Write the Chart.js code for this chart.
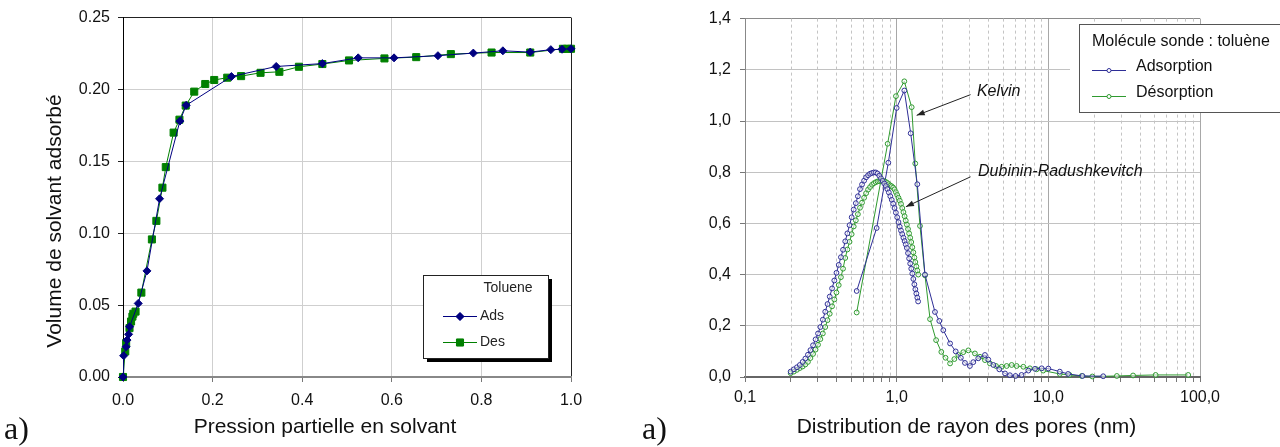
<!DOCTYPE html>
<html>
<head>
<meta charset="utf-8">
<script src="https://cdn.jsdelivr.net/npm/chart.js@4.4.1/dist/chart.umd.min.js"></script>
<style>
  html, body { margin: 0; padding: 0; background: #ffffff; }
  #wrap { position: relative; width: 1280px; height: 447px; overflow: hidden; background: #fff; }
  canvas { position: absolute; top: 0; }
  #cL { left: 0; }
  #cR { left: 640px; }
</style>
</head>
<body>
<div id="wrap">
  <canvas id="cL" width="640" height="447"></canvas>
  <canvas id="cR" width="640" height="447"></canvas>
</div>
<script>
// ---------- LEFT CHART DATA (isotherms) ----------
const leftSeriesNames = ['Ads', 'Des'];
const leftLegendTitle = 'Toluene';
const leftXTitle = 'Pression partielle en solvant';
const leftYTitle = 'Volume de solvant adsorbé';
const leftXTickLabels = ['0.0', '0.2', '0.4', '0.6', '0.8', '1.0'];
const leftYTickLabels = ['0.00', '0.05', '0.10', '0.15', '0.20', '0.25'];

const adsP = [0, 0.0014, 0.007, 0.009, 0.0125, 0.0148, 0.034, 0.0535, 0.0816, 0.127, 0.141, 0.242, 0.342, 0.445, 0.525, 0.605, 0.703, 0.782, 0.848, 0.909, 0.955, 0.980, 1.0];
const adsV = [0, 0.0148, 0.021, 0.0257, 0.0297, 0.035, 0.0512, 0.0738, 0.124, 0.178, 0.189, 0.209, 0.216, 0.218, 0.222, 0.222, 0.2235, 0.2253, 0.2269, 0.226, 0.2277, 0.228, 0.2283];

const desP = [0, 0.005, 0.007, 0.0145, 0.018, 0.021, 0.023, 0.028, 0.041, 0.0645, 0.0745, 0.088, 0.0955, 0.113, 0.126, 0.140, 0.159, 0.1836, 0.2036, 0.2327, 0.2636, 0.307, 0.349, 0.3927, 0.445, 0.5045, 0.5836, 0.6545, 0.7318, 0.8227, 0.909, 0.982, 0.991, 1.0];
const desV = [0, 0.0178, 0.0236, 0.034, 0.0386, 0.042, 0.044, 0.0455, 0.0587, 0.0957, 0.1086, 0.1317, 0.146, 0.170, 0.179, 0.1888, 0.1985, 0.2038, 0.2066, 0.2082, 0.2093, 0.2116, 0.2123, 0.2158, 0.2177, 0.2202, 0.2216, 0.2225, 0.2246, 0.2257, 0.2257, 0.2283, 0.2283, 0.2283];

// ---------- RIGHT CHART DATA (pore size distribution) ----------
const rightSeriesNames = ['Adsorption', 'Désorption'];
const rightLegendTitle = 'Molécule sonde : toluène';
const rightXTitle = 'Distribution de rayon des pores (nm)';
const rightXMajor = [0.1, 1, 10, 100];
const rightXTickLabels = ['0,1', '1,0', '10,0', '100,0'];
const rightXMinor = [0.2, 0.3, 0.4, 0.5, 0.6, 0.7, 0.8, 0.9, 2, 3, 4, 5, 6, 7, 8, 9, 20, 30, 40, 50, 60, 70, 80, 90];
const rightYTickLabels = ['0,0', '0,2', '0,4', '0,6', '0,8', '1,0', '1,2', '1,4'];
const annotationTexts = ['Kelvin', 'Dubinin-Radushkevitch'];

// Kelvin method
const kAdsR = [0.545, 0.738, 0.881, 1.0, 1.123, 1.237, 1.368, 1.537, 1.789, 1.91, 2.03, 2.25, 2.45, 2.65, 2.82, 3.04, 3.2, 3.45, 3.82, 4.02, 4.34, 4.75, 5.18, 5.58, 6.08, 6.66, 7.38, 8.16, 9.04, 10.0, 11.9, 13.5, 16.8, 23.0];
const kAdsV = [0.336, 0.582, 0.837, 1.051, 1.119, 0.952, 0.753, 0.400, 0.254, 0.219, 0.183, 0.131, 0.100, 0.075, 0.055, 0.043, 0.058, 0.073, 0.086, 0.068, 0.047, 0.030, 0.014, 0.007, 0.004, 0.008, 0.025, 0.032, 0.034, 0.033, 0.021, 0.012, 0.004, 0.003];

const kDesR = [0.545, 0.872, 0.989, 1.123, 1.256, 1.326, 1.425, 1.537, 1.66, 1.82, 1.97, 2.1, 2.25, 2.4, 2.55, 2.75, 2.97, 3.28, 3.54, 3.82, 4.12, 4.52, 4.92, 5.31, 5.73, 6.18, 6.84, 7.56, 8.37, 9.25, 11.9, 13.8, 16.6, 19.5, 28.3, 36.2, 51.0, 83.6];
const kDesV = [0.252, 0.911, 1.097, 1.155, 1.054, 0.834, 0.590, 0.397, 0.226, 0.144, 0.098, 0.075, 0.053, 0.070, 0.086, 0.097, 0.104, 0.092, 0.079, 0.066, 0.053, 0.043, 0.040, 0.043, 0.047, 0.043, 0.040, 0.034, 0.030, 0.025, 0.012, 0.008, 0.004, 0.002, 0.004, 0.006, 0.008, 0.008];

// Dubinin-Radushkevitch method
const drAdsR = [0.200, 0.210, 0.220, 0.230, 0.240, 0.250, 0.260, 0.270, 0.281, 0.292, 0.303, 0.314, 0.326, 0.338, 0.350, 0.362, 0.375, 0.388, 0.401, 0.415, 0.429, 0.443, 0.458, 0.473, 0.489, 0.505, 0.521, 0.538, 0.555, 0.573, 0.591, 0.610, 0.629, 0.648, 0.668, 0.688, 0.708, 0.728, 0.748, 0.768, 0.788, 0.808, 0.828, 0.848, 0.868, 0.888, 0.908, 0.928, 0.948, 0.968, 0.988, 1.008, 1.028, 1.048, 1.068, 1.088, 1.108, 1.128, 1.148, 1.168, 1.188, 1.208, 1.228, 1.248, 1.268, 1.288, 1.308, 1.328, 1.348, 1.368, 1.385];
const drAdsV = [0.021, 0.030, 0.038, 0.047, 0.059, 0.072, 0.087, 0.105, 0.124, 0.147, 0.170, 0.195, 0.224, 0.255, 0.285, 0.314, 0.346, 0.377, 0.407, 0.438, 0.468, 0.497, 0.530, 0.561, 0.593, 0.624, 0.654, 0.679, 0.706, 0.734, 0.752, 0.767, 0.780, 0.788, 0.794, 0.797, 0.799, 0.799, 0.795, 0.786, 0.776, 0.766, 0.756, 0.746, 0.734, 0.721, 0.706, 0.692, 0.677, 0.660, 0.642, 0.624, 0.605, 0.587, 0.572, 0.558, 0.544, 0.531, 0.518, 0.504, 0.484, 0.463, 0.443, 0.423, 0.404, 0.383, 0.362, 0.343, 0.326, 0.310, 0.295];

const drDesR = [0.200, 0.210, 0.220, 0.230, 0.240, 0.250, 0.260, 0.270, 0.281, 0.292, 0.303, 0.314, 0.326, 0.338, 0.350, 0.362, 0.375, 0.388, 0.401, 0.415, 0.429, 0.443, 0.458, 0.473, 0.489, 0.505, 0.521, 0.538, 0.555, 0.573, 0.591, 0.610, 0.629, 0.648, 0.668, 0.688, 0.708, 0.728, 0.748, 0.768, 0.788, 0.808, 0.828, 0.848, 0.868, 0.888, 0.908, 0.928, 0.948, 0.968, 0.988, 1.008, 1.028, 1.048, 1.068, 1.088, 1.108, 1.128, 1.148, 1.168, 1.188, 1.208, 1.228, 1.248, 1.268, 1.288, 1.308, 1.328, 1.348, 1.368, 1.388];
const drDesV = [0.015, 0.021, 0.028, 0.035, 0.041, 0.049, 0.059, 0.074, 0.090, 0.107, 0.126, 0.148, 0.170, 0.195, 0.222, 0.247, 0.276, 0.303, 0.330, 0.359, 0.390, 0.423, 0.465, 0.498, 0.528, 0.558, 0.588, 0.612, 0.636, 0.661, 0.681, 0.700, 0.718, 0.732, 0.742, 0.751, 0.757, 0.761, 0.764, 0.765, 0.766, 0.766, 0.765, 0.762, 0.758, 0.753, 0.748, 0.745, 0.740, 0.733, 0.722, 0.711, 0.700, 0.689, 0.676, 0.660, 0.644, 0.628, 0.611, 0.595, 0.578, 0.561, 0.544, 0.527, 0.507, 0.487, 0.467, 0.449, 0.432, 0.416, 0.400];

// ---------- helpers ----------
const FONT = "'Liberation Sans', Arial, Helvetica, sans-serif";
const SERIF = "'Liberation Serif', 'DejaVu Serif', serif";
const pts = (xs, ys) => xs.map((x, i) => ({ x: x, y: ys[i] }));
const near = (a, b) => Math.abs(a - b) < 1e-9 * Math.max(1, Math.abs(b));

const BLUE_L = '#000080', GREEN_L = '#008000';
const BLUE_R = '#2e2e96', GREEN_R = '#2f9a2f';

// ---------- LEFT CHART ----------
const leftDeco = {
  id: 'leftDeco',
  afterDraw(chart) {
    const c = chart.ctx;
    c.save();
    c.fillStyle = '#111';
    // axis titles
    c.font = '21px ' + FONT;
    c.textAlign = 'center';
    c.textBaseline = 'middle';
    c.fillText(leftXTitle, 325, 427);
    c.save();
    c.translate(55, 221);
    c.rotate(-Math.PI / 2);
    c.fillText(leftYTitle, 0, 0);
    c.restore();
    // panel label
    c.font = '32px ' + SERIF;
    c.textAlign = 'left';
    c.textBaseline = 'alphabetic';
    c.fillText('a)', 4, 439);
    // legend box with shadow
    const bx = 423, by = 275, bw = 125, bh = 83;
    c.fillStyle = '#000';
    c.fillRect(bx + 4, by + 4, bw, bh);
    c.fillStyle = '#fff';
    c.fillRect(bx, by, bw, bh);
    c.strokeStyle = '#222';
    c.lineWidth = 1;
    c.strokeRect(bx + 0.5, by + 0.5, bw, bh);
    c.fillStyle = '#222';
    c.font = '14px ' + FONT;
    c.textAlign = 'center';
    c.fillText(leftLegendTitle, 508, 292);
    const rows = [316, 342];
    chart.data.datasets.forEach((ds, i) => {
      const y = rows[i];
      c.strokeStyle = ds.borderColor;
      c.lineWidth = 1;
      c.beginPath(); c.moveTo(443, y + 0.5); c.lineTo(477, y + 0.5); c.stroke();
      c.fillStyle = ds.backgroundColor;
      Chart.helpers.drawPoint(c, { pointStyle: ds.pointStyle, radius: ds.pointRadius, borderWidth: 1 }, 460, y + 0.5);
      c.fill();
      c.fillStyle = '#222';
      c.textAlign = 'left';
      c.textBaseline = 'middle';
      c.font = '14px ' + FONT;
      c.fillText(ds.label, 480, y);
    });
    c.restore();
  }
};

new Chart(document.getElementById('cL'), {
  type: 'scatter',
  data: {
    datasets: [
      { label: leftSeriesNames[0], data: pts(adsP, adsV), showLine: true, borderColor: BLUE_L, backgroundColor: BLUE_L,
        pointStyle: 'rectRot', pointRadius: 4, pointBorderWidth: 1, borderWidth: 1, clip: false },
      { label: leftSeriesNames[1], data: pts(desP, desV), showLine: true, borderColor: GREEN_L, backgroundColor: GREEN_L,
        pointStyle: 'rect', pointRadius: 5, pointBorderWidth: 1, borderWidth: 1, clip: false }
    ]
  },
  options: {
    responsive: false, animation: false, devicePixelRatio: 1,
    layout: { padding: { top: 17, right: 69, left: 0, bottom: 0 } },
    plugins: { legend: { display: false }, tooltip: { enabled: false } },
    scales: {
      x: {
        type: 'linear', min: 0, max: 1,
        afterFit(s) { s.height = 70; },
        ticks: { stepSize: 0.2, padding: 9, color: '#111', font: { family: FONT, size: 16 }, maxRotation: 0,
                 callback: (v) => leftXTickLabels[Math.round(v / 0.2)] },
        grid: { color: (ctx) => (ctx.tick && near(ctx.tick.value, 1)) ? '#222' : '#cfcfcf', lineWidth: 1, tickLength: 5, tickColor: '#777' },
        border: { color: '#888', width: 2 }
      },
      y: {
        min: 0, max: 0.25,
        afterFit(s) { s.width = 123; },
        ticks: { stepSize: 0.05, padding: 8, color: '#111', font: { family: FONT, size: 16 },
                 callback: (v) => leftYTickLabels[Math.round(v / 0.05)] },
        grid: { color: (ctx) => (ctx.tick && near(ctx.tick.value, 0.25)) ? '#222' : '#cfcfcf', lineWidth: 1, tickLength: 5, tickColor: '#222' },
        border: { color: '#000', width: 1 }
      }
    }
  },
  plugins: [leftDeco]
});

// ---------- RIGHT CHART ----------
const annotations = [
  { text: 0, tx: 3.38, ty: 1.116, ax: 3.07, ay: 1.103, bx: 1.355, by: 1.022 },
  { text: 1, tx: 3.44, ty: 0.802, ax: 3.07, ay: 0.782, bx: 1.15, by: 0.665 }
];

const rightDeco = {
  id: 'rightDeco',
  beforeDatasetsDraw(chart) {
    const c = chart.ctx, a = chart.chartArea, xs = chart.scales.x;
    c.save();
    c.strokeStyle = '#c4c4c4';
    c.lineWidth = 1;
    c.setLineDash([3, 3]);
    rightXMinor.forEach(v => {
      const x = Math.round(xs.getPixelForValue(v)) + 0.5;
      c.beginPath(); c.moveTo(x, a.top); c.lineTo(x, a.bottom); c.stroke();
    });
    c.restore();
  },
  afterDraw(chart) {
    const c = chart.ctx, xs = chart.scales.x, ys = chart.scales.y;
    c.save();
    // annotations with arrows
    c.fillStyle = '#111';
    c.strokeStyle = '#222';
    c.lineWidth = 1;
    c.font = 'italic 16px ' + FONT;
    c.textAlign = 'left';
    c.textBaseline = 'middle';
    annotations.forEach(an => {
      c.fillText(annotationTexts[an.text], xs.getPixelForValue(an.tx), ys.getPixelForValue(an.ty));
      const x1 = xs.getPixelForValue(an.ax), y1 = ys.getPixelForValue(an.ay);
      const x2 = xs.getPixelForValue(an.bx), y2 = ys.getPixelForValue(an.by);
      c.beginPath(); c.moveTo(x1, y1); c.lineTo(x2, y2); c.stroke();
      const ang = Math.atan2(y2 - y1, x2 - x1), L = 8, W = 3;
      c.beginPath();
      c.moveTo(x2, y2);
      c.lineTo(x2 - L * Math.cos(ang) + W * Math.sin(ang), y2 - L * Math.sin(ang) - W * Math.cos(ang));
      c.lineTo(x2 - L * Math.cos(ang) - W * Math.sin(ang), y2 - L * Math.sin(ang) + W * Math.cos(ang));
      c.closePath();
      c.fillStyle = '#222';
      c.fill();
      c.fillStyle = '#111';
    });
    // legend
    c.fillStyle = '#fff';
    c.fillRect(430, 24, 220, 88);
    c.strokeStyle = '#555';
    c.strokeRect(439.5, 24.5, 230, 88);
    c.fillStyle = '#111';
    c.font = '16px ' + FONT;
    c.textAlign = 'left';
    c.textBaseline = 'middle';
    c.fillText(rightLegendTitle, 452, 42);
    const rowsT = [67, 93], rowsL = [70.5, 96.5];
    [0, 1].forEach(i => {
      const ds = chart.data.datasets[i];
      c.strokeStyle = ds.borderColor;
      c.lineWidth = 1;
      c.beginPath(); c.moveTo(452, rowsL[i]); c.lineTo(486, rowsL[i]); c.stroke();
      c.beginPath(); c.arc(469, rowsL[i], 2, 0, Math.PI * 2);
      c.fillStyle = '#fff'; c.fill(); c.stroke();
      c.fillStyle = '#111';
      c.fillText(rightSeriesNames[i], 496, rowsT[i]);
    });
    // axis title
    c.font = '21px ' + FONT;
    c.textAlign = 'center';
    c.fillText(rightXTitle, 326.5, 427);
    // panel label
    c.font = '32px ' + SERIF;
    c.textAlign = 'left';
    c.textBaseline = 'alphabetic';
    c.fillText('a)', 2, 439);
    c.restore();
  }
};

function rds(label, xs, ys, color) {
  return { label: label, data: pts(xs, ys), showLine: true, borderColor: color, backgroundColor: color,
           pointStyle: 'circle', pointRadius: 2.4, pointBorderWidth: 1, pointBorderColor: color,
           pointBackgroundColor: 'rgba(255,255,255,0.55)', borderWidth: 1, clip: false };
}

new Chart(document.getElementById('cR'), {
  type: 'scatter',
  data: {
    datasets: [
      rds(rightSeriesNames[0], drAdsR, drAdsV, BLUE_R),
      rds(rightSeriesNames[1], drDesR, drDesV, GREEN_R),
      rds(rightSeriesNames[0], kAdsR, kAdsV, BLUE_R),
      rds(rightSeriesNames[1], kDesR, kDesV, GREEN_R)
    ]
  },
  options: {
    responsive: false, animation: false, devicePixelRatio: 1,
    layout: { padding: { top: 17, right: 80, left: 0, bottom: 0 } },
    plugins: { legend: { display: false }, tooltip: { enabled: false } },
    scales: {
      x: {
        type: 'logarithmic', min: 0.1, max: 100,
        afterFit(s) { s.height = 70; },
        afterBuildTicks(s) {
          s.ticks = rightXMajor.concat(rightXMinor).sort((a, b) => a - b).map(v => ({ value: v }));
        },
        ticks: { autoSkip: false, maxRotation: 0, padding: 6, color: '#111', font: { family: FONT, size: 16 },
                 callback: (v) => { const i = rightXMajor.findIndex(m => near(m, v)); return i >= 0 ? rightXTickLabels[i] : ''; } },
        grid: { color: (ctx) => (ctx.tick && rightXMajor.some(m => near(m, ctx.tick.value))) ? '#a8a8a8' : 'rgba(0,0,0,0)',
                lineWidth: 1, tickLength: 5, tickColor: '#777' },
        border: { color: '#666', width: 2 }
      },
      y: {
        min: 0, max: 1.4,
        afterFit(s) { s.width = 105; },
        ticks: { stepSize: 0.2, padding: 9, color: '#111', font: { family: FONT, size: 16 },
                 callback: (v) => rightYTickLabels[Math.round(v / 0.2)] },
        grid: { color: (ctx) => (ctx.tick && near(ctx.tick.value, 1.4)) ? '#8a8a8a' : '#c2c2c2', lineWidth: 1, tickLength: 5, tickColor: '#777' },
        border: { color: '#888', width: 1 }
      }
    }
  },
  plugins: [rightDeco]
});
</script>
</body>
</html>
